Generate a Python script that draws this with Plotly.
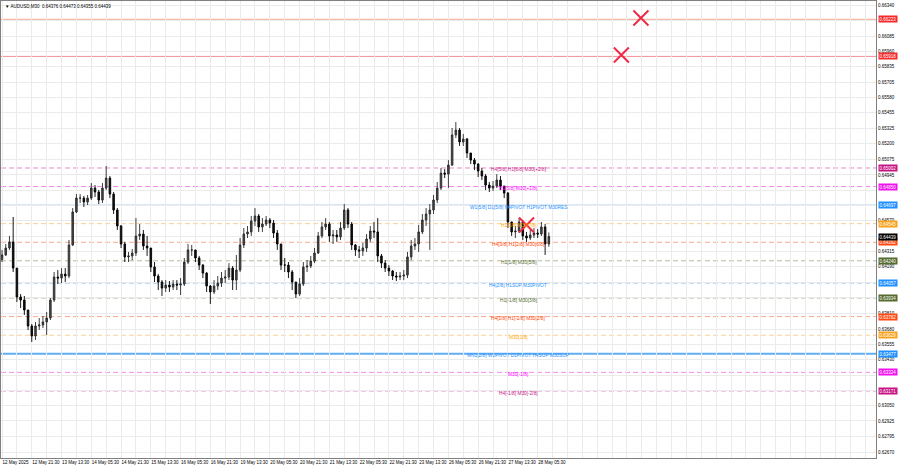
import plotly.graph_objects as go

# ---------------- data ----------------
closes = [0.64288, 0.64345, 0.64395, 0.64180, 0.63943, 0.63918, 0.63836, 0.63705, 0.63623, 0.63705,
          0.63713, 0.63738, 0.63770, 0.63918, 0.64107, 0.64098, 0.64131, 0.64115, 0.64370, 0.64641,
          0.64755, 0.64755, 0.64723, 0.64755, 0.64837, 0.64805, 0.64739, 0.64837, 0.64919, 0.64788,
          0.64657, 0.64526, 0.64378, 0.64272, 0.64280, 0.64304, 0.64444, 0.64460, 0.64362, 0.64345,
          0.64189, 0.64115, 0.64066, 0.64016, 0.64041, 0.64025, 0.64049, 0.64041, 0.64049, 0.64230,
          0.64329, 0.64329, 0.64263, 0.64205, 0.64139, 0.64033, 0.63984, 0.64033, 0.64057, 0.64098,
          0.64107, 0.64180, 0.64082, 0.64164, 0.64370, 0.64460, 0.64477, 0.64567, 0.64608, 0.64518,
          0.64542, 0.64575, 0.64550, 0.64468, 0.64378, 0.64205, 0.64205, 0.64148, 0.64066, 0.63967,
          0.64049, 0.64189, 0.64197, 0.64238, 0.64304, 0.64444, 0.64518, 0.64542, 0.64444, 0.64452,
          0.64436, 0.64509, 0.64657, 0.64542, 0.64370, 0.64329, 0.64321, 0.64345, 0.64419, 0.64485,
          0.64477, 0.64280, 0.64221, 0.64180, 0.64156, 0.64115, 0.64107, 0.64115, 0.64123, 0.64272,
          0.64362, 0.64378, 0.64477, 0.64575, 0.64624, 0.64657, 0.64739, 0.64837, 0.64960, 0.64952,
          0.65026, 0.65273, 0.65314, 0.65216, 0.65240, 0.65125, 0.65067, 0.65034, 0.64977, 0.64936,
          0.64862, 0.64837, 0.64854, 0.64903, 0.64854, 0.64796, 0.64559, 0.64477, 0.64485, 0.64559,
          0.64444, 0.64427, 0.64452, 0.64468, 0.64460, 0.64518, 0.64378, 0.64439]
highs = [0.64329, 0.64378, 0.64444, 0.64600, 0.64180, 0.63967, 0.63951, 0.63820, 0.63721, 0.63738,
         0.63770, 0.63787, 0.63820, 0.63934, 0.64148, 0.64164, 0.64180, 0.64180, 0.64411, 0.64673,
         0.64788, 0.64788, 0.64772, 0.64780, 0.64878, 0.64862, 0.64821, 0.64878, 0.65018, 0.64936,
         0.64805, 0.64673, 0.64534, 0.64395, 0.64313, 0.64337, 0.64591, 0.64542, 0.64493, 0.64444,
         0.64345, 0.64230, 0.64131, 0.64082, 0.64082, 0.64074, 0.64082, 0.64082, 0.64098, 0.64263,
         0.64378, 0.64370, 0.64329, 0.64280, 0.64213, 0.64148, 0.64041, 0.64082, 0.64115, 0.64148,
         0.64164, 0.64221, 0.64197, 0.64288, 0.64427, 0.64509, 0.64526, 0.64608, 0.64673, 0.64624,
         0.64591, 0.64608, 0.64591, 0.64575, 0.64493, 0.64378, 0.64263, 0.64230, 0.64164, 0.64066,
         0.64098, 0.64230, 0.64246, 0.64280, 0.64345, 0.64477, 0.64559, 0.64591, 0.64559, 0.64493,
         0.64493, 0.64559, 0.64706, 0.64673, 0.64559, 0.64378, 0.64362, 0.64386, 0.64460, 0.64526,
         0.64559, 0.64591, 0.64296, 0.64246, 0.64205, 0.64164, 0.64148, 0.64148, 0.64164, 0.64313,
         0.64411, 0.64427, 0.64534, 0.64624, 0.64673, 0.64706, 0.64780, 0.64887, 0.65001, 0.64993,
         0.65067, 0.65330, 0.65379, 0.65330, 0.65281, 0.65248, 0.65125, 0.65084, 0.65042, 0.65001,
         0.64952, 0.64887, 0.64895, 0.64952, 0.64936, 0.64854, 0.64805, 0.64559, 0.64526, 0.64591,
         0.64575, 0.64477, 0.64493, 0.64509, 0.64501, 0.64559, 0.64542, 0.64473]
lows = [0.64230, 0.64280, 0.64329, 0.64148, 0.63902, 0.63852, 0.63795, 0.63672, 0.63574, 0.63590,
        0.63672, 0.63688, 0.63631, 0.63754, 0.63902, 0.64049, 0.64057, 0.64066, 0.64098, 0.64362,
        0.64632, 0.64714, 0.64682, 0.64698, 0.64739, 0.64764, 0.64706, 0.64714, 0.64821, 0.64755,
        0.64624, 0.64493, 0.64345, 0.64230, 0.64230, 0.64246, 0.64280, 0.64411, 0.64329, 0.64280,
        0.64148, 0.64066, 0.64000, 0.63951, 0.63984, 0.63984, 0.64000, 0.64000, 0.63959, 0.64033,
        0.64213, 0.64280, 0.64230, 0.64164, 0.64098, 0.63984, 0.63885, 0.63967, 0.64000, 0.64025,
        0.64057, 0.64082, 0.64000, 0.64000, 0.64148, 0.64345, 0.64427, 0.64444, 0.64526, 0.64477,
        0.64477, 0.64526, 0.64509, 0.64427, 0.64329, 0.64164, 0.64148, 0.64098, 0.64000, 0.63934,
        0.63951, 0.64033, 0.64148, 0.64180, 0.64221, 0.64296, 0.64427, 0.64493, 0.64395, 0.64378,
        0.64395, 0.64411, 0.64493, 0.64509, 0.64329, 0.64280, 0.64263, 0.64280, 0.64313, 0.64395,
        0.64427, 0.64230, 0.64180, 0.64148, 0.64115, 0.64082, 0.64074, 0.64082, 0.64082, 0.64098,
        0.64246, 0.64329, 0.64313, 0.64460, 0.64526, 0.64329, 0.64624, 0.64714, 0.64821, 0.64919,
        0.64837, 0.65018, 0.65248, 0.65183, 0.65183, 0.65084, 0.65034, 0.64985, 0.64928, 0.64903,
        0.64821, 0.64805, 0.64813, 0.64837, 0.64821, 0.64755, 0.64509, 0.64444, 0.64427, 0.64468,
        0.64411, 0.64395, 0.64411, 0.64427, 0.64427, 0.64444, 0.64288, 0.64355]
first_open = 0.64250

header_symbol = "AUDUSD,M30"
header_ohlc = [0.64376, 0.64473, 0.64355, 0.64439]

time_labels = ["12 May 2025", "12 May 21:30", "13 May 13:30", "14 May 05:30", "14 May 21:30",
               "15 May 13:30", "16 May 05:30", "16 May 21:30", "19 May 13:30", "20 May 05:30",
               "20 May 21:30", "21 May 13:30", "22 May 05:30", "22 May 21:30", "23 May 13:30",
               "26 May 05:30", "26 May 21:30", "27 May 13:30", "28 May 05:30"]

price_ticks = [0.66340, 0.66215, 0.66085, 0.65960, 0.65835, 0.65705, 0.65580, 0.65455, 0.65325,
               0.65200, 0.65075, 0.64945, 0.64820, 0.64695, 0.64570, 0.64440, 0.64315, 0.64190,
               0.64060, 0.63935, 0.63810, 0.63680, 0.63555, 0.63430, 0.63300, 0.63175, 0.63050,
               0.62925, 0.62795, 0.62670]
hidden_ticks = [0.66215, 0.64820, 0.64695, 0.64440, 0.64060, 0.63935, 0.63300, 0.63175]

levels = [0.66223, 0.65918, 0.65002, 0.64850, 0.64697, 0.64545, 0.64392, 0.64240,
          0.64057, 0.63934, 0.63782, 0.63629, 0.63477, 0.63324, 0.63171]
level_texts = ["", "",
               "H4[5/8] H1[6/8] M30[+2/8]",
               "H1[5/8] M30[+1/8]",
               "W1[5/8] D1[5/8] H4PIVOT H1PIVOT M30RES",
               "H1[3/8] M30[7/8]",
               "H4[3/8] H1[2/8] M30[6/8]",
               "H1[1/8] M30[5/8]",
               "H4[2/8] H1SUP M30PIVOT",
               "H1[-1/8] M30[3/8]",
               "H4[1/8] H1[-2/8] M30[2/8]",
               "M30[1/8]",
               "MN1[2/8] W1PIVOT D1PIVOT H4SUP M30SUP",
               "M30[-1/8]",
               "H4[-1/8] M30[-2/8]"]

signal_bars = [687, 666, 564]
signal_prices = [0.66233, 0.65929, 0.64534]

# ---------------- styles ----------------
BARS_PER_SAMPLE = 4
BARS_PER_LABEL = 32
LABEL_BAR = 555
level_text_colors = ["#FF2020", "#FF2020", "#C71585", "#FF00FF", "#1E90FF", "#FFA500", "#FF4500",
                     "#556B2F", "#1E90FF", "#556B2F", "#FF4500", "#FFA500", "#1E90FF", "#FF00FF", "#C71585"]
level_line_colors = ["#F5A88E", "#F59296", "#E68CC6", "#F28CF2", "#8FC5F5", "#F9CF95", "#F8AA8E",
                     "#B7BA9E", "#8FC5F5", "#B7BA9E", "#F8AA8E", "#F9CF95", "#62AEF2", "#F28CF2", "#E68CC6"]
level_box_colors = ["#F52A2A", "#F52A2A", "#C71585", "#F012EE", "#1E90FF", "#F9A21E", "#FF4A14",
                    "#556B2F", "#1E90FF", "#556B2F", "#FF4A14", "#F9A21E", "#1E90FF", "#F012EE", "#C71585"]
level_solid = [True, True, False, False, True, False, False, False, False, False, False, False, True, False, False]
level_width = [1, 1, 1, 1, 1, 1, 1, 1, 1, 1, 1, 1, 2, 1, 1]

FONT = "Liberation Sans, Arial, sans-serif"
GRID = "#EBEBEB"

opens = [first_open] + closes[:-1]
bars = [i * BARS_PER_SAMPLE for i in range(len(closes))]

fig = go.Figure()

fig.add_trace(go.Candlestick(
    x=bars, open=opens, high=highs, low=lows, close=closes,
    increasing=dict(line=dict(color="#2A2A2A", width=0.9), fillcolor="#4A4A4A"),
    decreasing=dict(line=dict(color="#000000", width=0.9), fillcolor="#111111"),
    whiskerwidth=0, hoverinfo="skip", showlegend=False,
))

fig.add_trace(go.Scatter(
    x=signal_bars, y=signal_prices, mode="markers",
    marker=dict(symbol="x-thin", size=15, line=dict(width=2, color="#EE2B47"), color="#EE2B47"),
    hoverinfo="skip", showlegend=False,
))

shapes = []
annotations = []
for i, lv in enumerate(levels):
    shapes.append(dict(type="line", xref="paper", x0=0, x1=1, yref="y", y0=lv, y1=lv,
                       layer="below",
                       line=dict(color=level_line_colors[i], width=level_width[i],
                                 dash="solid" if level_solid[i] else "5px,3px")))
    if level_texts[i]:
        annotations.append(dict(x=LABEL_BAR, y=lv, xref="x", yref="y", text=level_texts[i],
                                showarrow=False, yshift=-2,
                                font=dict(family=FONT, size=4.8, color=level_text_colors[i])))
    annotations.append(dict(x=1, y=lv, xref="paper", yref="y", xanchor="left", xshift=2,
                            text=f"{lv:.5f}", showarrow=False, bgcolor=level_box_colors[i],
                            borderpad=0.5, font=dict(family=FONT, size=4.5, color="white")))

# current price box
annotations.append(dict(x=1, y=closes[-1], xref="paper", yref="y", xanchor="left", xshift=2,
                        text=f"{closes[-1]:.5f}", showarrow=False, bgcolor="#000000",
                        borderpad=0.5, font=dict(family=FONT, size=4.5, color="white")))

# header
annotations.append(dict(x=0, y=1, xref="paper", yref="paper", xanchor="left", yanchor="top",
                        xshift=2, yshift=-1, showarrow=False,
                        text="▼ " + header_symbol + "  " + " ".join(f"{v:.5f}" for v in header_ohlc),
                        font=dict(family=FONT, size=4.5, color="black")))

tick_text = ["" if v in hidden_ticks else f"{v:.5f}" for v in price_ticks]

fig.update_layout(
    width=900, height=468,
    margin=dict(l=1, r=24, t=1, b=10, autoexpand=False),
    paper_bgcolor="white", plot_bgcolor="white",
    showlegend=False, boxgap=0.4,
    font=dict(family=FONT, size=4.5, color="black"),
    shapes=shapes, annotations=annotations,
    xaxis=dict(
        range=[-1.1, 939.8], rangeslider=dict(visible=False), automargin=False,
        tickmode="array", tickvals=[i * BARS_PER_LABEL for i in range(len(time_labels))],
        ticktext=time_labels, ticklabelposition="outside right", ticks="", tickangle=0,
        tickfont=dict(family=FONT, size=4.5, color="black"),
        showgrid=True, gridcolor=GRID, gridwidth=1,
        minor=dict(tick0=0, dtick=BARS_PER_LABEL // 2, showgrid=True, gridcolor=GRID, ticks=""),
        showline=True, mirror=True, linecolor="#808080", linewidth=1, zeroline=False,
    ),
    yaxis=dict(
        side="right", range=[0.62621, 0.66373], automargin=False,
        tickmode="array", tickvals=price_ticks, ticktext=tick_text, ticks="",
        tickfont=dict(family=FONT, size=4.5, color="black"),
        showgrid=True, gridcolor=GRID, gridwidth=1,
        showline=True, mirror=True, linecolor="#808080", linewidth=1, zeroline=False,
    ),
)

fig.write_html("out.html", config={"displayModeBar": False},
               post_script="document.body.style.margin='0px';document.body.style.overflow='hidden';")
